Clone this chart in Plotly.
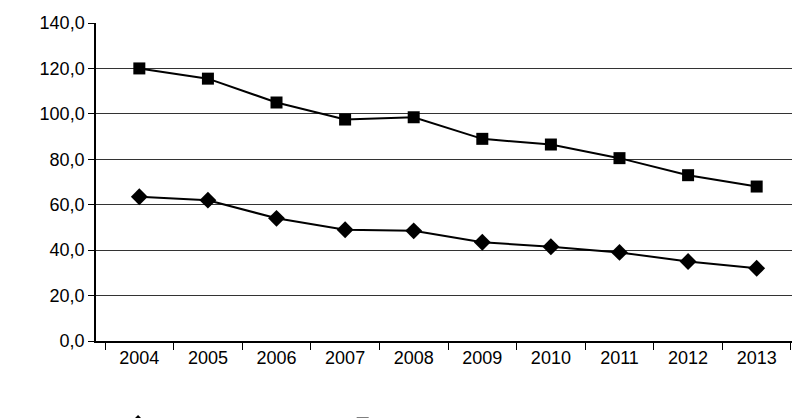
import plotly.graph_objects as go

years = ["2004", "2005", "2006", "2007", "2008", "2009", "2010", "2011", "2012", "2013"]
first_time = [63.5, 62.0, 54.0, 49.0, 48.5, 43.5, 41.5, 39.0, 35.0, 32.0]
hospitalized = [120.0, 115.5, 105.0, 97.5, 98.5, 89.0, 86.5, 80.5, 73.0, 68.0]

fig = go.Figure()
fig.add_trace(go.Scatter(x=years, y=first_time, name="впервые в жизни",
                         mode="lines+markers", line=dict(color="black", width=2),
                         marker=dict(symbol="diamond", size=13, color="black")))
fig.add_trace(go.Scatter(x=years, y=hospitalized, name="госпитализировано – всего",
                         mode="lines+markers", line=dict(color="black", width=2),
                         marker=dict(symbol="square", size=12, color="black")))

fig.update_layout(
    width=800, height=418, plot_bgcolor="white", paper_bgcolor="white",
    margin=dict(l=88, r=8, t=15, b=85, autoexpand=False),
    separators=", ",
    font=dict(family="Liberation Sans, Arial", size=18, color="black"),
    legend=dict(orientation="h", x=0.01, xanchor="left", y=-0.2, yanchor="top",
                font=dict(size=19), itemwidth=60),
    xaxis=dict(showline=True, linecolor="black", linewidth=1.5, ticks="outside",
               tickson="boundaries", ticklen=7, tickcolor="black", showgrid=False),
    yaxis=dict(range=[0, 140], dtick=20, tickformat=".1f", showgrid=True,
               gridcolor="#333", gridwidth=1.2, showline=True, linecolor="black",
               linewidth=1.5, ticks="outside", ticklen=6, tickcolor="black",
               zeroline=False),
)
fig.write_html("out.html")
